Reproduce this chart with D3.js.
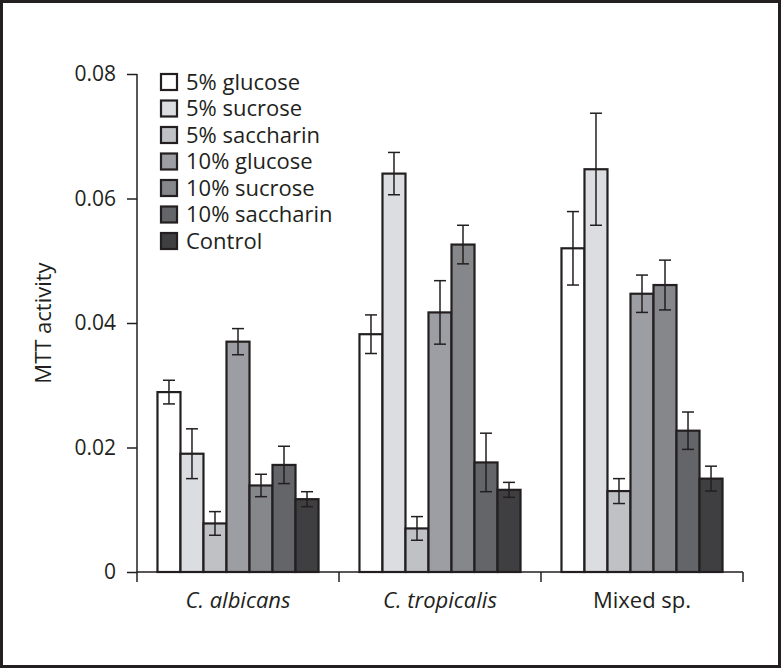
<!DOCTYPE html>
<html>
<head>
<meta charset="utf-8">
<script src="https://cdn.jsdelivr.net/npm/d3@7"></script>
<style>
body { margin: 0; background: #fff; }
text { font-family: "Open Sans", "Noto Sans", sans-serif; fill: #231f20; }
</style>
</head>
<body>
<div id="chart"></div>
<script>
// data
var categories = ["C. albicans", "C. tropicalis", "Mixed sp."];
var series = ["5% glucose", "5% sucrose", "5% saccharin", "10% glucose", "10% sucrose", "10% saccharin", "Control"];
var colors = ["#ffffff", "#dcdde0", "#c0c1c5", "#9d9ea3", "#86878b", "#646568", "#3f3f41"];
// values[category][series]
var values = [
  [0.0289, 0.0190, 0.0078, 0.0370, 0.0139, 0.0172, 0.0117],
  [0.0382, 0.0640, 0.0070, 0.0417, 0.0526, 0.0176, 0.0132],
  [0.0520, 0.0647, 0.0130, 0.0447, 0.0461, 0.0227, 0.0150]
];
var errors = [
  [0.0019, 0.0040, 0.0019, 0.0021, 0.0018, 0.0030, 0.0012],
  [0.0031, 0.0034, 0.0019, 0.0051, 0.0031, 0.0047, 0.0012],
  [0.0059, 0.0090, 0.0020, 0.0030, 0.0040, 0.0030, 0.0020]
];
var yTicks = [0, 0.02, 0.04, 0.06, 0.08];

var W = 781, H = 668;
var margin = {top: 74, left: 137},
    width = 606,
    height = 498;

var root = d3.select("#chart").append("svg")
  .attr("width", W)
  .attr("height", H);

// outer frame
root.append("rect")
  .attr("x", 1.5).attr("y", 1.5)
  .attr("width", W - 3).attr("height", H - 3)
  .attr("fill", "#fff")
  .attr("stroke", "#231f20")
  .attr("stroke-width", 3);

var svg = root.append("g")
  .attr("transform", "translate(" + margin.left + "," + margin.top + ")");

var x0 = d3.scaleBand().domain(categories).range([0, width]);
var x1 = d3.scaleBand().domain(series).range([0, x0.bandwidth()]).paddingOuter(0.89);
var y = d3.scaleLinear().domain([0, 0.08]).range([height, 0]);

// bars
var rows = [];
categories.forEach(function(c, i) {
  series.forEach(function(s, j) {
    rows.push({cat: c, ser: s, value: values[i][j], err: errors[i][j], color: colors[j]});
  });
});

svg.selectAll(".bar")
  .data(rows)
  .enter().append("rect")
  .attr("class", "bar")
  .attr("x", function(d) { return x0(d.cat) + x1(d.ser); })
  .attr("y", function(d) { return y(d.value); })
  .attr("width", x1.bandwidth())
  .attr("height", function(d) { return height - y(d.value); })
  .attr("fill", function(d) { return d.color; })
  .attr("stroke", "#231f20")
  .attr("stroke-width", 2.2);

// error bars
var eb = svg.selectAll(".err")
  .data(rows)
  .enter().append("g")
  .attr("class", "err")
  .attr("transform", function(d) { return "translate(" + (x0(d.cat) + x1(d.ser) + x1.bandwidth() / 2) + ",0)"; })
  .attr("stroke", "#231f20")
  .attr("stroke-width", 1.5);
eb.append("line")
  .attr("y1", function(d) { return y(d.value + d.err); })
  .attr("y2", function(d) { return y(d.value - d.err); });
eb.append("line")
  .attr("x1", -6).attr("x2", 6)
  .attr("y1", function(d) { return y(d.value + d.err); })
  .attr("y2", function(d) { return y(d.value + d.err); });
eb.append("line")
  .attr("x1", -6).attr("x2", 6)
  .attr("y1", function(d) { return y(d.value - d.err); })
  .attr("y2", function(d) { return y(d.value - d.err); });

// y axis
var yAxis = svg.append("g")
  .call(d3.axisLeft(y).tickValues(yTicks).tickSize(10).tickPadding(11)
    .tickFormat(function(d) { return d === 0 ? "0" : d3.format(".2f")(d); }));
yAxis.select(".domain").remove();
yAxis.selectAll("line").attr("stroke", "#231f20").attr("stroke-width", 1.5);
yAxis.selectAll("text").attr("font-size", 21).attr("fill", "#231f20")
  .style("font-family", "'Open Sans', sans-serif");
svg.append("line")
  .attr("x1", 0).attr("x2", 0)
  .attr("y1", 0).attr("y2", height + 10)
  .attr("stroke", "#231f20").attr("stroke-width", 1.5);

// x axis
svg.append("line")
  .attr("x1", 0).attr("x2", width)
  .attr("y1", height).attr("y2", height)
  .attr("stroke", "#231f20").attr("stroke-width", 1.5);
svg.selectAll(".xsep")
  .data(categories.slice(1).concat(["end"]))
  .enter().append("line")
  .attr("x1", function(d, i) { return x0.bandwidth() * (i + 1); })
  .attr("x2", function(d, i) { return x0.bandwidth() * (i + 1); })
  .attr("y1", height).attr("y2", height + 10)
  .attr("stroke", "#231f20").attr("stroke-width", 1.5);
svg.selectAll(".xlab")
  .data(categories)
  .enter().append("text")
  .attr("x", function(d) { return x0(d) + x0.bandwidth() / 2; })
  .attr("y", height + 36)
  .attr("text-anchor", "middle")
  .attr("font-size", 22)
  .attr("font-style", function(d) { return d.indexOf("C.") === 0 ? "italic" : "normal"; })
  .text(function(d) { return d; });

// y title
svg.append("text")
  .attr("transform", "translate(-86," + (height / 2) + ") rotate(-90)")
  .attr("text-anchor", "middle")
  .attr("font-size", 22)
  .text("MTT activity");

// legend
var legend = svg.selectAll(".legend")
  .data(series)
  .enter().append("g")
  .attr("transform", function(d, i) { return "translate(24," + (i * 26.5) + ")"; });
legend.append("rect")
  .attr("x", 0).attr("y", 0)
  .attr("width", 16).attr("height", 16)
  .attr("fill", function(d, i) { return colors[i]; })
  .attr("stroke", "#231f20")
  .attr("stroke-width", 2.2);
legend.append("text")
  .attr("x", 25).attr("y", 8)
  .attr("dy", "0.35em")
  .attr("font-size", 22)
  .text(function(d) { return d; });
</script>
</body>
</html>
